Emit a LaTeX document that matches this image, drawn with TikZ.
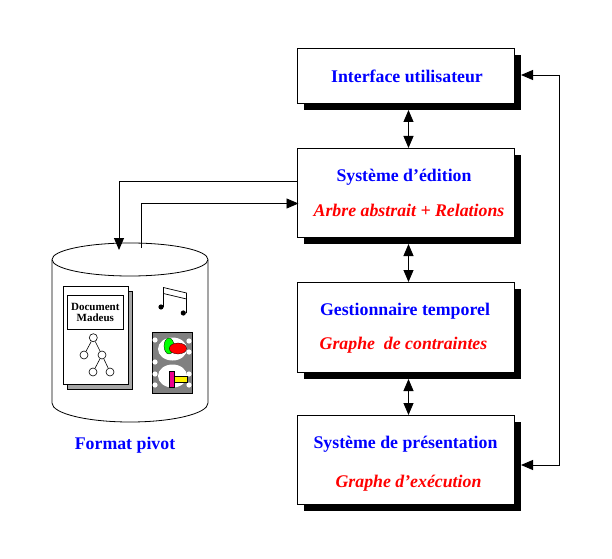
\documentclass[tikz,border=0pt]{standalone}
\usepackage{fontspec}
\setmainfont{Liberation Serif}
\usetikzlibrary{arrows.meta,shadows,positioning,calc}
\definecolor{pureblue}{RGB}{0,0,255}
\definecolor{purered}{RGB}{255,0,0}
\definecolor{filmgrey}{RGB}{128,128,128}
\tikzset{
  layerbox/.style={draw=black,fill=white,line width=0.9bp,rectangle,inner sep=0pt,
    minimum width=217bp,
    drop shadow={shadow xshift=6.5bp,shadow yshift=-7bp,fill=black,opacity=1}},
  titletext/.style={font=\fontsize{17.8bp}{20bp}\selectfont\bfseries,text=pureblue,inner sep=0pt,anchor=base},
  subtext/.style={font=\fontsize{17.8bp}{20bp}\selectfont\bfseries\itshape,text=purered,inner sep=0pt,anchor=base},
  link/.style={line width=0.9bp,draw=black},
  both/.style={link,{Triangle[length=12bp,width=10bp]}-{Triangle[length=12bp,width=10bp]}},
  tohead/.style={link,-{Triangle[length=12bp,width=10bp]}},
  treenode/.style={circle,draw=black,fill=white,line width=0.6bp,minimum size=8bp,inner sep=0pt},
  treeedge/.style={line width=0.6bp,draw=black},
  cylline/.style={line width=0.8bp,draw=black},
}
\begin{document}
\begin{tikzpicture}[x=1bp,y=-1bp]
\useasboundingbox (0,0) rectangle (612,559);

% Layer boxes
\node[layerbox,minimum height=55bp] (ui) at (406,75.5) {};
\node[layerbox,minimum height=89bp] (edit) at (406,192.5) {};
\node[layerbox,minimum height=90bp] (time) at (406,327) {};
\node[layerbox,minimum height=89bp] (pres) at (406,459.5) {};

\node[titletext] (uit) at (407,82.3) {Interface utilisateur};
\node[titletext] (editt) at (404,182) {Système d’édition};
\node[subtext] (edits) at (409,216.7) {Arbre abstrait + Relations};
\node[titletext] (timet) at (405,315) {Gestionnaire temporel};
\node[subtext] (times) at (403.5,349) {Graphe\ \ de contraintes};
\node[titletext] (prest) at (405.5,448.5) {Système de présentation};
\node[subtext] (press) at (408.5,487.7) {Graphe d’exécution};

% Vertical links between the layers
\coordinate (ui-b) at (408.5,110);
\coordinate (edit-t) at (408.5,148);
\coordinate (edit-b) at (408.5,244);
\coordinate (time-t) at (408.5,282);
\coordinate (time-b) at (408.5,379);
\coordinate (pres-t) at (408.5,415);
\draw[both] (ui-b) -- (edit-t);
\draw[both] (edit-b) -- (time-t);
\draw[both] (time-b) -- (pres-t);

% Return path on the right
\coordinate (ui-r) at (521,75);
\coordinate (pres-r) at (521,465);
\coordinate (rail-t) at (559,75);
\coordinate (rail-b) at (559,465);
\draw[tohead] (rail-t) -- (ui-r);
\draw[tohead] (rail-t) -- (rail-b) -- (pres-r);

% Storage cylinder
\draw[cylline,fill=white] (52,260) -- (52,403) arc[start angle=180,end angle=0,x radius=78,y radius=19] -- (208,260);
\draw[cylline,fill=white] (130,259.5) ellipse[x radius=78,y radius=16.5];
\coordinate (cyl-in) at (119,250);
\coordinate (cyl-out) at (141,248);
\coordinate (edit-l1) at (297.5,181.5);
\coordinate (edit-l2) at (298.5,203.5);
\draw[tohead] (edit-l1) -- (119,181.5) -- (cyl-in);
\draw[tohead] (cyl-out) -- (141,203.5) -- (edit-l2);

% Document sheet with its tree
\fill[filmgrey!70] (67,291) rectangle (132,389);
\draw[line width=0.6bp] (67,291) rectangle (132,389);
\node[draw=black,fill=white,line width=0.7bp,minimum width=65bp,minimum height=98bp,inner sep=0pt] (sheet) at (95.5,335) {};
\node[draw=black,fill=white,line width=0.7bp,minimum width=56.5bp,minimum height=34.5bp,align=center,inner sep=0pt,
  font=\fontsize{11bp}{11bp}\selectfont\bfseries] (label) at (95.3,312.3) {Document\\Madeus};
\node[treenode] (t1) at (93.3,337.7) {};
\node[treenode] (t2) at (84,355) {};
\node[treenode] (t3) at (102,355) {};
\node[treenode] (t4) at (93,372) {};
\node[treenode] (t5) at (110,372) {};
\draw[treeedge] (t1) -- (t2);
\draw[treeedge] (t1) -- (t3);
\draw[treeedge] (t3) -- (t4);
\draw[treeedge] (t3) -- (t5);

% Musical note
\fill (161,307) circle[radius=2.6];
\fill (183.3,313) circle[radius=2.6];
\draw[line width=0.7bp] (163.4,307) -- (163.4,287.5) -- (186.5,293) -- (186.5,313);
\draw[line width=0.7bp] (163.4,293.5) -- (186.5,299);

% Film strip
\fill[filmgrey] (152,332) rectangle (192,393);
\draw[line width=0.6bp] (152,332) rectangle (192,393);
\foreach \py in {340,362,374,385}{
  \fill[white] (155,\py) circle[radius=2.6];
}
\foreach \py in {341,352,374,385}{
  \fill[white] (189,\py) circle[radius=2.6];
}
\fill[white] (172.5,349) ellipse[x radius=14.5,y radius=11.5];
\fill[white] (172.5,376) ellipse[x radius=14.5,y radius=11.5];
\fill[green,draw=black,line width=0.3bp] (169,346) ellipse[x radius=5,y radius=8];
\fill[purered,draw=black,line width=0.3bp] (178,348.5) ellipse[x radius=8.7,y radius=5.5];
\fill[yellow] (174,376.5) rectangle (187,382.5);
\draw[line width=0.3bp] (174,376.5) rectangle (187,382.5);
\fill[magenta] (169,371) rectangle (174,387);
\draw[line width=0.3bp] (169,371) rectangle (174,387);

% Caption of the store
\node[titletext] (cap) at (125,449) {Format pivot};
\end{tikzpicture}
\end{document}
